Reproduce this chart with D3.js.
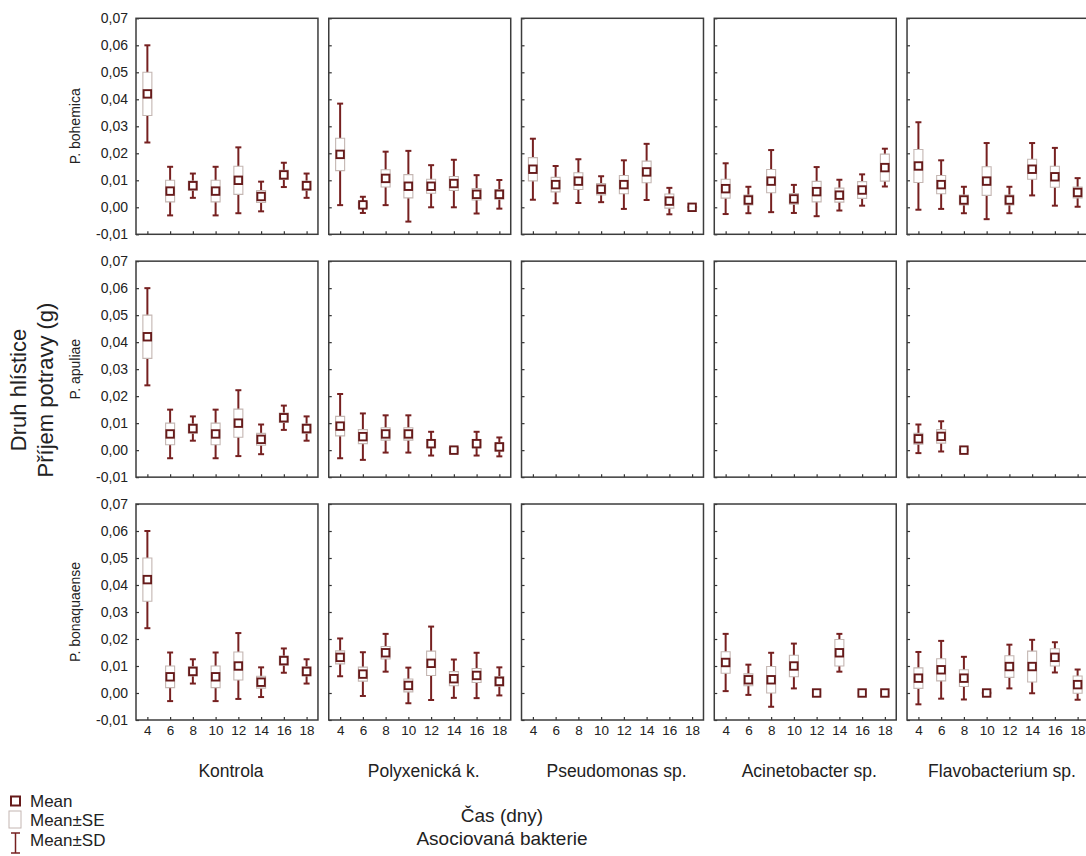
<!DOCTYPE html>
<html>
<head>
<meta charset="utf-8">
<script src="https://cdnjs.cloudflare.com/ajax/libs/d3/7.8.5/d3.min.js"></script>
<style>
  html, body { margin: 0; padding: 0; background: #fff; }
  svg { display: block; font-family: "Liberation Sans", Arial, sans-serif; }
</style>
</head>
<body>
<script>
// ---------- DATA ----------
const timeLabels = ["4", "6", "8", "10", "12", "14", "16", "18"];
const bacteria = ["Kontrola", "Polyxenická k.", "Pseudomonas sp.", "Acinetobacter sp.", "Flavobacterium sp."];
const species = ["P. bohemica", "P. apuliae", "P. bonaquaense"];
const yTickValues = [-0.01, 0.00, 0.01, 0.02, 0.03, 0.04, 0.05, 0.06, 0.07];
const legendLabels = ["Mean", "Mean±SE", "Mean±SD"];
const xTitleLines = ["Čas (dny)", "Asociovaná bakterie"];
const yTitleLines = ["Druh hlístice", "Příjem potravy (g)"];

// Kontrola (same in every row)
const controlMean = [0.042, 0.006, 0.008, 0.006, 0.010, 0.004, 0.012, 0.008];
const controlSE   = [0.008, 0.004, 0.0017, 0.004, 0.0052, 0.0022, 0.0017, 0.0017];
const controlSD   = [0.018, 0.009, 0.0045, 0.009, 0.0122, 0.0055, 0.0045, 0.0045];

const empty = [null, null, null, null, null, null, null, null];

// P. bohemica: [Kontrola, Polyxenická, Pseudomonas, Acinetobacter, Flavobacterium]
const bohemicaMean = [controlMean,
  [0.0196, 0.0009, 0.0107, 0.0078, 0.0078, 0.0088, 0.0048, 0.0048],
  [0.0141, 0.0084, 0.0097, 0.0067, 0.0084, 0.0131, 0.0023, 0.0000],
  [0.0069, 0.0027, 0.0097, 0.0031, 0.0058, 0.0045, 0.0064, 0.0147],
  [0.0153, 0.0084, 0.0027, 0.0097, 0.0027, 0.0141, 0.0113, 0.0055]];
const bohemicaSE = [controlSE,
  [0.0060, 0.0010, 0.0032, 0.0043, 0.0026, 0.0026, 0.0021, 0.0018],
  [0.0043, 0.0027, 0.0031, 0.0021, 0.0034, 0.0040, 0.0026, 0.0002],
  [0.0035, 0.0018, 0.0043, 0.0020, 0.0038, 0.0026, 0.0031, 0.0050],
  [0.0061, 0.0034, 0.0018, 0.0053, 0.0018, 0.0037, 0.0039, 0.0020]];
const bohemicaSD = [controlSD,
  [0.0188, 0.0030, 0.0099, 0.0131, 0.0078, 0.0088, 0.0071, 0.0053],
  [0.0113, 0.0069, 0.0081, 0.0048, 0.0090, 0.0104, 0.0049, 0.0002],
  [0.0094, 0.0049, 0.0115, 0.0052, 0.0091, 0.0057, 0.0058, 0.0070],
  [0.0162, 0.0090, 0.0049, 0.0141, 0.0049, 0.0097, 0.0107, 0.0053]];

// P. apuliae
const apuliaeMean = [controlMean,
  [0.0089, 0.0050, 0.0060, 0.0060, 0.0024, 0.0000, 0.0024, 0.0012],
  empty,
  empty,
  [0.0042, 0.0051, 0.0000, null, null, null, null, null]];
const apuliaeSE = [controlSE,
  [0.0036, 0.0026, 0.0023, 0.0023, 0.0015, 0.0010, 0.0015, 0.0015],
  empty,
  empty,
  [0.0020, 0.0025, 0.0003, null, null, null, null, null]];
const apuliaeSD = [controlSD,
  [0.0119, 0.0086, 0.0069, 0.0069, 0.0044, 0.0010, 0.0044, 0.0035],
  empty,
  empty,
  [0.0053, 0.0056, 0.0000, null, null, null, null, null]];

// P. bonaquaense
const bonaquaenseMean = [controlMean,
  [0.0132, 0.0070, 0.0149, 0.0028, 0.0110, 0.0053, 0.0065, 0.0043],
  empty,
  [0.0113, 0.0049, 0.0049, 0.0100, 0.0000, 0.0149, 0.0000, 0.0000],
  [0.0055, 0.0086, 0.0055, 0.0000, 0.0098, 0.0098, 0.0132, 0.0031]];
const bonaquaenseSE = [controlSE,
  [0.0024, 0.0026, 0.0023, 0.0024, 0.0045, 0.0026, 0.0026, 0.0018],
  empty,
  [0.0040, 0.0022, 0.0049, 0.0040, 0.0000, 0.0049, 0.0000, 0.0000],
  [0.0038, 0.0041, 0.0031, 0.0003, 0.0040, 0.0057, 0.0032, 0.0032]];
const bonaquaenseSD = [controlSD,
  [0.0070, 0.0081, 0.0070, 0.0066, 0.0136, 0.0071, 0.0084, 0.0052],
  empty,
  [0.0106, 0.0056, 0.0100, 0.0083, 0.0000, 0.0070, 0.0000, 0.0000],
  [0.0097, 0.0107, 0.0079, 0.0000, 0.0081, 0.0099, 0.0056, 0.0056]];

const means = [bohemicaMean, apuliaeMean, bonaquaenseMean];
const ses   = [bohemicaSE, apuliaeSE, bonaquaenseSE];
const sds   = [bohemicaSD, apuliaeSD, bonaquaenseSD];

// ---------- DRAWING ----------
const W = 1086, H = 856;
const svg = d3.select("body").append("svg").attr("width", W).attr("height", H);

const colBand = d3.scaleBand().domain(bacteria).range([136, 1089]).paddingInner(0.056);
const rowBand = d3.scaleBand().domain(species).range([18.3, 720]).paddingInner(0.1106);
const pw = colBand.bandwidth(), ph = rowBand.bandwidth();
const x = d3.scalePoint().domain(timeLabels).range([0, pw]).padding(0.5);
const y = d3.scaleLinear().domain([-0.01, 0.07]).range([ph, 0]);

const fmt = v => (v < 0 ? "-" : "") + Math.abs(v).toFixed(2).replace(".", ",");

const whiskerColor = "#762020";
const meanColor = "#661a1a";
const seColor = "#c4b6b2";
const frameColor = "#3c3c3c";

species.forEach((sp, si) => {
  bacteria.forEach((bac, bi) => {
    const g = svg.append("g").attr("transform", `translate(${colBand(bac)},${rowBand(sp)})`);

    // y axis ticks
    const ya = g.append("g").call(
      d3.axisLeft(y).tickValues(yTickValues).tickSizeInner(-3).tickSizeOuter(0)
        .tickPadding(8).tickFormat(bi === 0 ? fmt : () => ""));
    ya.select(".domain").remove();
    ya.selectAll("line").attr("stroke", "#333").attr("stroke-width", 1.2);
    ya.selectAll("text").attr("font-size", 14).attr("fill", "#222")
      .attr("font-family", "'Liberation Sans', Arial, sans-serif");

    // x axis ticks
    const xa = g.append("g").attr("transform", `translate(0,${ph})`).call(
      d3.axisBottom(x).tickSizeInner(-3).tickSizeOuter(0).tickPadding(5)
        .tickFormat(si === species.length - 1 ? (d => d) : () => ""));
    xa.select(".domain").remove();
    xa.selectAll("line").attr("stroke", "#333").attr("stroke-width", 1.2);
    xa.selectAll("text").attr("font-size", 13.5).attr("fill", "#222")
      .attr("font-family", "'Liberation Sans', Arial, sans-serif");

    // data
    const m = means[si][bi], se = ses[si][bi], sd = sds[si][bi];
    const items = timeLabels.map((t, i) => ({ t, m: m[i], se: se[i], sd: sd[i] }))
      .filter(d => d.m !== null && d.m !== undefined);

    const it = g.append("g").selectAll("g").data(items).join("g")
      .attr("transform", d => `translate(${x(d.t)},0)`);

    // SD whiskers
    it.filter(d => d.sd > 0.0004).each(function (d) {
      const s = d3.select(this);
      const y1 = y(d.m + d.sd), y2 = y(d.m - d.sd);
      s.append("line").attr("x1", 0).attr("x2", 0).attr("y1", y1).attr("y2", y2)
        .attr("stroke", whiskerColor).attr("stroke-width", 2);
      [y1, y2].forEach(yy => s.append("line").attr("x1", -3).attr("x2", 3)
        .attr("y1", yy).attr("y2", yy).attr("stroke", whiskerColor).attr("stroke-width", 2));
    });

    // SE box
    it.append("path")
      .attr("d", d => {
        const y1 = y(d.m + d.se), y2 = y(d.m - d.se);
        return `M-4.5,${y1}H4.5V${y2}H-4.5Z`;
      })
      .attr("fill", "#fff").attr("stroke", seColor).attr("stroke-width", 1.1);

    // mean marker
    it.append("rect")
      .attr("x", -3.75).attr("y", d => y(d.m) - 3.75).attr("width", 7.5).attr("height", 7.5)
      .attr("fill", "#fff").attr("stroke", meanColor).attr("stroke-width", 1.9);

    // frame
    g.append("rect").attr("x", 0).attr("y", 0).attr("width", pw).attr("height", ph)
      .attr("fill", "none").attr("stroke", frameColor).attr("stroke-width", 1.5);
  });

  // row label
  svg.append("text")
    .attr("transform", `translate(80,${rowBand(sp) + ph / 2}) rotate(-90)`)
    .attr("text-anchor", "middle").attr("font-size", 14).attr("fill", "#222")
    .text(sp);
});

// column labels
svg.append("g").selectAll("text").data(bacteria).join("text")
  .attr("x", d => colBand(d) + pw / 2 + 4).attr("y", 777)
  .attr("text-anchor", "middle").attr("font-size", 17.5).attr("fill", "#222")
  .text(d => d);

// x title
svg.append("g").selectAll("text").data(xTitleLines).join("text")
  .attr("x", 502).attr("y", (d, i) => 822 + i * 23)
  .attr("text-anchor", "middle").attr("font-size", 19).attr("fill", "#222")
  .text(d => d);

// y title
svg.append("g").selectAll("text").data(yTitleLines).join("text")
  .attr("transform", (d, i) => `translate(${26 + i * 27},390) rotate(-90)`)
  .attr("text-anchor", "middle").attr("font-size", 22).attr("fill", "#222")
  .text(d => d);

// legend
const lg = svg.append("g");
const ly = [801, 820, 840];
lg.append("rect").attr("x", 11).attr("y", ly[0] - 4.5).attr("width", 9).attr("height", 9)
  .attr("fill", "#fff").attr("stroke", meanColor).attr("stroke-width", 2);
lg.append("rect").attr("x", 9).attr("y", ly[1] - 9).attr("width", 12).attr("height", 17)
  .attr("fill", "#fff").attr("stroke", seColor).attr("stroke-width", 1);
lg.append("line").attr("x1", 15.5).attr("x2", 15.5).attr("y1", ly[2] - 7).attr("y2", ly[2] + 13)
  .attr("stroke", whiskerColor).attr("stroke-width", 1.5);
[ly[2] - 7, ly[2] + 13].forEach(yy => lg.append("line").attr("x1", 11).attr("x2", 20)
  .attr("y1", yy).attr("y2", yy).attr("stroke", whiskerColor).attr("stroke-width", 1.5));
lg.selectAll("text.lab").data(legendLabels).join("text").attr("class", "lab")
  .attr("x", 30).attr("y", (d, i) => ly[i] + 6)
  .attr("font-size", 17).attr("fill", "#222").text(d => d);
</script>
</body>
</html>
